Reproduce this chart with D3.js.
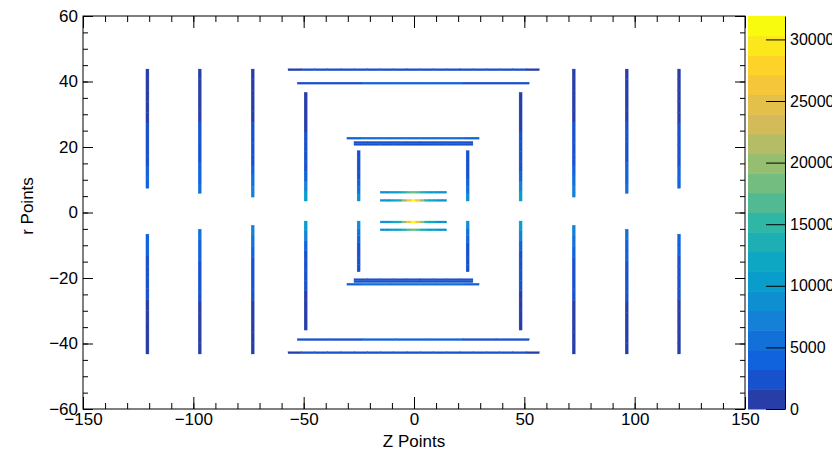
<!DOCTYPE html>
<html>
<head>
<meta charset="utf-8">
<script src="https://cdn.jsdelivr.net/npm/d3@7"></script>
<style>
body { margin: 0; background: #fff; }
text { font-family: "Liberation Sans", Arial, sans-serif; }
</style>
</head>
<body>
<svg id="chart" width="832" height="452"></svg>
<script>
// axis ranges and ticks
var zRange = [-150, 150];
var rRange = [-60, 60];
var zTicks = [-150, -100, -50, 0, 50, 100, 150];
var rTicks = [-60, -40, -20, 0, 20, 40, 60];
var countMax = 31900;
var countLevels = 20;
var countTicks = [0, 5000, 10000, 15000, 20000, 25000, 30000];

// vertical elements: [z, r from, r to, counts along r (low r first)]
var outerDisks = [
  [-120.8, 7.4, 43.8, [4000, 4000, 2400, 2400, 2400, 2400, 800, 800, 800, 800, 800]],
  [-97.1, 5.8, 43.8, [5600, 4000, 4000, 2400, 2400, 2400, 2400, 800, 800, 800, 800, 800]],
  [-73.1, 4.7, 43.8, [7200, 5600, 4000, 2400, 2400, 2400, 2400, 800, 800, 800, 800, 800]],
  [72.4, 4.7, 43.8, [7200, 5600, 4000, 2400, 2400, 2400, 2400, 800, 800, 800, 800, 800]],
  [96.4, 5.8, 43.8, [5600, 4000, 4000, 2400, 2400, 2400, 2400, 800, 800, 800, 800, 800]],
  [120.1, 7.4, 43.8, [4000, 4000, 2400, 2400, 2400, 2400, 800, 800, 800, 800, 800]],
  [-120.8, -43.2, -6.6, [800, 800, 800, 800, 800, 2400, 2400, 2400, 2400, 4000, 4000]],
  [-97.1, -43.2, -5.1, [800, 800, 800, 800, 800, 2400, 2400, 2400, 2400, 4000, 4000, 5600]],
  [-73.1, -43.2, -3.9, [800, 800, 800, 800, 800, 2400, 2400, 2400, 2400, 4000, 5600, 7200]],
  [72.4, -43.2, -3.9, [800, 800, 800, 800, 800, 2400, 2400, 2400, 2400, 4000, 5600, 7200]],
  [96.4, -43.2, -5.1, [800, 800, 800, 800, 800, 2400, 2400, 2400, 2400, 4000, 4000, 5600]],
  [120.1, -43.2, -6.6, [800, 800, 800, 800, 800, 2400, 2400, 2400, 2400, 4000, 4000]]
];

var innerDisks = [
  [-49.1, 3.5, 36.7, [10400, 7200, 4000, 2400, 2400, 2400, 2400, 800, 800, 800, 800]],
  [48.3, 3.5, 36.7, [10400, 7200, 4000, 2400, 2400, 2400, 2400, 800, 800, 800, 800]],
  [-49.1, -35.9, -2.6, [800, 800, 800, 800, 2400, 2400, 2400, 2400, 4000, 7200, 10400]],
  [48.3, -35.9, -2.6, [800, 800, 800, 800, 2400, 2400, 2400, 2400, 4000, 7200, 10400]],
  [-25.1, 3.5, 18.9, [8800, 5600, 4000, 2400, 2400, 2400, 2400]],
  [24.3, 3.5, 18.9, [8800, 5600, 4000, 2400, 2400, 2400, 2400]],
  [-25.1, -18.1, -2.6, [2400, 2400, 2400, 2400, 4000, 5600, 8800]],
  [24.3, -18.1, -2.6, [2400, 2400, 2400, 2400, 4000, 5600, 8800]]
];

// horizontal elements: [r, z from, z to, counts along z]
var barrels = [
  [43.6, -57.1, 56.8, [800, 2400, 2400, 2400, 2400, 2400, 2400, 2400, 2400, 2400, 2400, 2400, 2400, 2400, 2400, 2400, 2400, 2400, 800]],
  [39.5, -52.9, 52.2, [2400, 2400, 3600, 3600, 3600, 2400, 2400]],
  [22.7, -30.4, 29.5, [4000, 5600, 5600, 5600, 5600, 5600, 5600, 5600, 4000]],
  [21.4, -27.2, 26.7, [2400, 2400, 2400, 2400, 2400, 2400, 2400, 2400, 2400]],
  [20.8, -27.2, 26.7, [2400, 2400, 2400, 2400, 2400, 2400, 2400, 2400, 2400]],
  [6.2, -15.3, 14.8, [8000, 8800, 9600, 10400, 12000, 13600, 16000, 18400, 16000, 13600, 12000, 10400, 9600, 8800, 8000]],
  [3.7, -15.3, 14.8, [8000, 9000, 10400, 12000, 14000, 20000, 27000, 31500, 27000, 20000, 14000, 12000, 10400, 9000, 8000]],
  [-2.9, -15.3, 14.8, [8000, 9000, 10400, 12000, 14000, 20000, 27000, 31500, 27000, 20000, 14000, 12000, 10400, 9000, 8000]],
  [-5.3, -15.3, 14.8, [8000, 8800, 9600, 10400, 12000, 13600, 16000, 18400, 16000, 13600, 12000, 10400, 9600, 8800, 8000]],
  [-20.5, -27.2, 26.7, [2400, 2400, 2400, 2400, 2400, 2400, 2400, 2400, 2400]],
  [-21.1, -27.2, 26.7, [2400, 2400, 2400, 2400, 2400, 2400, 2400, 2400, 2400]],
  [-21.9, -30.4, 29.5, [4000, 5600, 5600, 5600, 5600, 5600, 5600, 5600, 4000]],
  [-38.8, -52.9, 52.2, [2400, 2400, 3600, 3600, 3600, 2400, 2400]],
  [-42.8, -57.1, 56.8, [800, 2400, 2400, 2400, 2400, 2400, 2400, 2400, 2400, 2400, 2400, 2400, 2400, 2400, 2400, 2400, 2400, 2400, 800]]
];

// bin sizes of the histogram
var zBin = 1.36, rBin = 0.6;

// ROOT kBird palette
var birdStops = [0, 0.125, 0.25, 0.375, 0.5, 0.625, 0.75, 0.875, 1];
var birdRed = [0.2082, 0.0592, 0.0780, 0.0232, 0.1802, 0.5301, 0.8186, 0.9956, 0.9764];
var birdGreen = [0.1664, 0.3599, 0.5041, 0.6419, 0.7178, 0.7492, 0.7328, 0.7862, 0.9832];
var birdBlue = [0.5293, 0.8684, 0.8385, 0.7914, 0.6425, 0.4662, 0.3499, 0.1968, 0.0539];

var svg = d3.select("#chart");
var frame = {left: 83, right: 745, top: 16, bottom: 409};

var x = d3.scaleLinear().domain(zRange).range([frame.left, frame.right]);
var y = d3.scaleLinear().domain(rRange).range([frame.bottom, frame.top]);

var bird = d3.scaleLinear()
  .domain(birdStops)
  .range(birdStops.map(function(s, i) {
    return d3.rgb(birdRed[i] * 255, birdGreen[i] * 255, birdBlue[i] * 255).toString();
  }));
// colour of each contour band, picked like THistPainter does
var bandColors = d3.range(countLevels).map(function(i) {
  return bird(Math.floor((i + 0.99) * 255 / countLevels) / 254);
});
var color = d3.scaleQuantize().domain([0, countMax]).range(bandColors);

// split every element into cells
var cells = [];
outerDisks.concat(innerDisks).forEach(function(d) {
  var step = (d[2] - d[1]) / d[3].length;
  d[3].forEach(function(c, i) {
    cells.push({z0: d[0] - zBin / 2, z1: d[0] + zBin / 2, r0: d[1] + i * step, r1: d[1] + (i + 1) * step, c: c});
  });
});
barrels.forEach(function(d) {
  var step = (d[2] - d[1]) / d[3].length;
  d[3].forEach(function(c, i) {
    cells.push({z0: d[1] + i * step, z1: d[1] + (i + 1) * step, r0: d[0] - rBin / 2, r1: d[0] + rBin / 2, c: c});
  });
});

svg.append("g")
  .selectAll("rect")
  .data(cells)
  .join("rect")
  .attr("x", function(d) { return x(d.z0); })
  .attr("width", function(d) { return x(d.z1) - x(d.z0); })
  .attr("y", function(d) { return y(d.r1); })
  .attr("height", function(d) { return y(d.r0) - y(d.r1); })
  .attr("fill", function(d) { return color(d.c); })
  .attr("stroke", function(d) { return color(d.c); })
  .attr("stroke-width", 0.3);

// axes, ROOT style: ticks inside the frame
function minor(scale, step) {
  var dom = scale.domain();
  return d3.range(dom[0], dom[1] + 0.001, step);
}
function styleAxis(g) {
  g.select(".domain").remove();
  g.selectAll("line").attr("stroke", "#000");
  g.selectAll("text").attr("font-size", 17).attr("fill", "#000");
}

svg.append("g").attr("transform", "translate(0," + frame.bottom + ")")
  .call(d3.axisBottom(x).tickValues(minor(x, 10)).tickSize(-6).tickFormat(""))
  .call(styleAxis);
svg.append("g").attr("transform", "translate(0," + frame.bottom + ")")
  .call(d3.axisBottom(x).tickValues(zTicks).tickSize(-12).tickPadding(4))
  .call(styleAxis);
svg.append("g").attr("transform", "translate(0," + frame.top + ")")
  .call(d3.axisTop(x).tickValues(minor(x, 10)).tickSize(-6).tickFormat(""))
  .call(styleAxis);
svg.append("g").attr("transform", "translate(0," + frame.top + ")")
  .call(d3.axisTop(x).tickValues(zTicks).tickSize(-12).tickFormat(""))
  .call(styleAxis);

svg.append("g").attr("transform", "translate(" + frame.left + ",0)")
  .call(d3.axisLeft(y).tickValues(minor(y, 5)).tickSize(-5).tickFormat(""))
  .call(styleAxis);
svg.append("g").attr("transform", "translate(" + frame.left + ",0)")
  .call(d3.axisLeft(y).tickValues(rTicks).tickSize(-10).tickPadding(5))
  .call(styleAxis);
svg.append("g").attr("transform", "translate(" + frame.right + ",0)")
  .call(d3.axisRight(y).tickValues(minor(y, 5)).tickSize(-5).tickFormat(""))
  .call(styleAxis);
svg.append("g").attr("transform", "translate(" + frame.right + ",0)")
  .call(d3.axisRight(y).tickValues(rTicks).tickSize(-10).tickFormat(""))
  .call(styleAxis);

svg.append("rect")
  .attr("x", frame.left).attr("y", frame.top)
  .attr("width", frame.right - frame.left).attr("height", frame.bottom - frame.top)
  .attr("fill", "none").attr("stroke", "#000");

svg.append("text")
  .attr("x", (frame.left + frame.right) / 2).attr("y", 447)
  .attr("text-anchor", "middle").attr("font-size", 17)
  .text("Z Points");
svg.append("text")
  .attr("transform", "translate(33,206) rotate(-90)")
  .attr("text-anchor", "middle").attr("font-size", 17)
  .text("r Points");

// colour bar
var bar = {left: 748, right: 785};
var yc = d3.scaleLinear().domain([0, countMax]).range([frame.bottom, frame.top]);
var bandEdges = d3.range(countLevels + 1).map(function(i) { return i * countMax / countLevels; });

svg.append("g")
  .selectAll("rect")
  .data(d3.range(countLevels))
  .join("rect")
  .attr("x", bar.left)
  .attr("width", bar.right - bar.left)
  .attr("y", function(i) { return yc(bandEdges[i + 1]); })
  .attr("height", function(i) { return yc(bandEdges[i]) - yc(bandEdges[i + 1]) + 0.5; })
  .attr("fill", function(i) { return bandColors[i]; });

svg.append("g").attr("transform", "translate(" + bar.right + ",0)")
  .call(d3.axisRight(yc).tickValues(countTicks).tickSize(-19).tickPadding(5).tickSizeOuter(0)
    .tickFormat(d3.format("d")))
  .call(function(g) {
    g.select(".domain").attr("stroke", "#000");
    g.selectAll("line").attr("stroke", "#000");
    g.selectAll("text").attr("font-size", 16).attr("fill", "#000");
  });
</script>
</body>
</html>
